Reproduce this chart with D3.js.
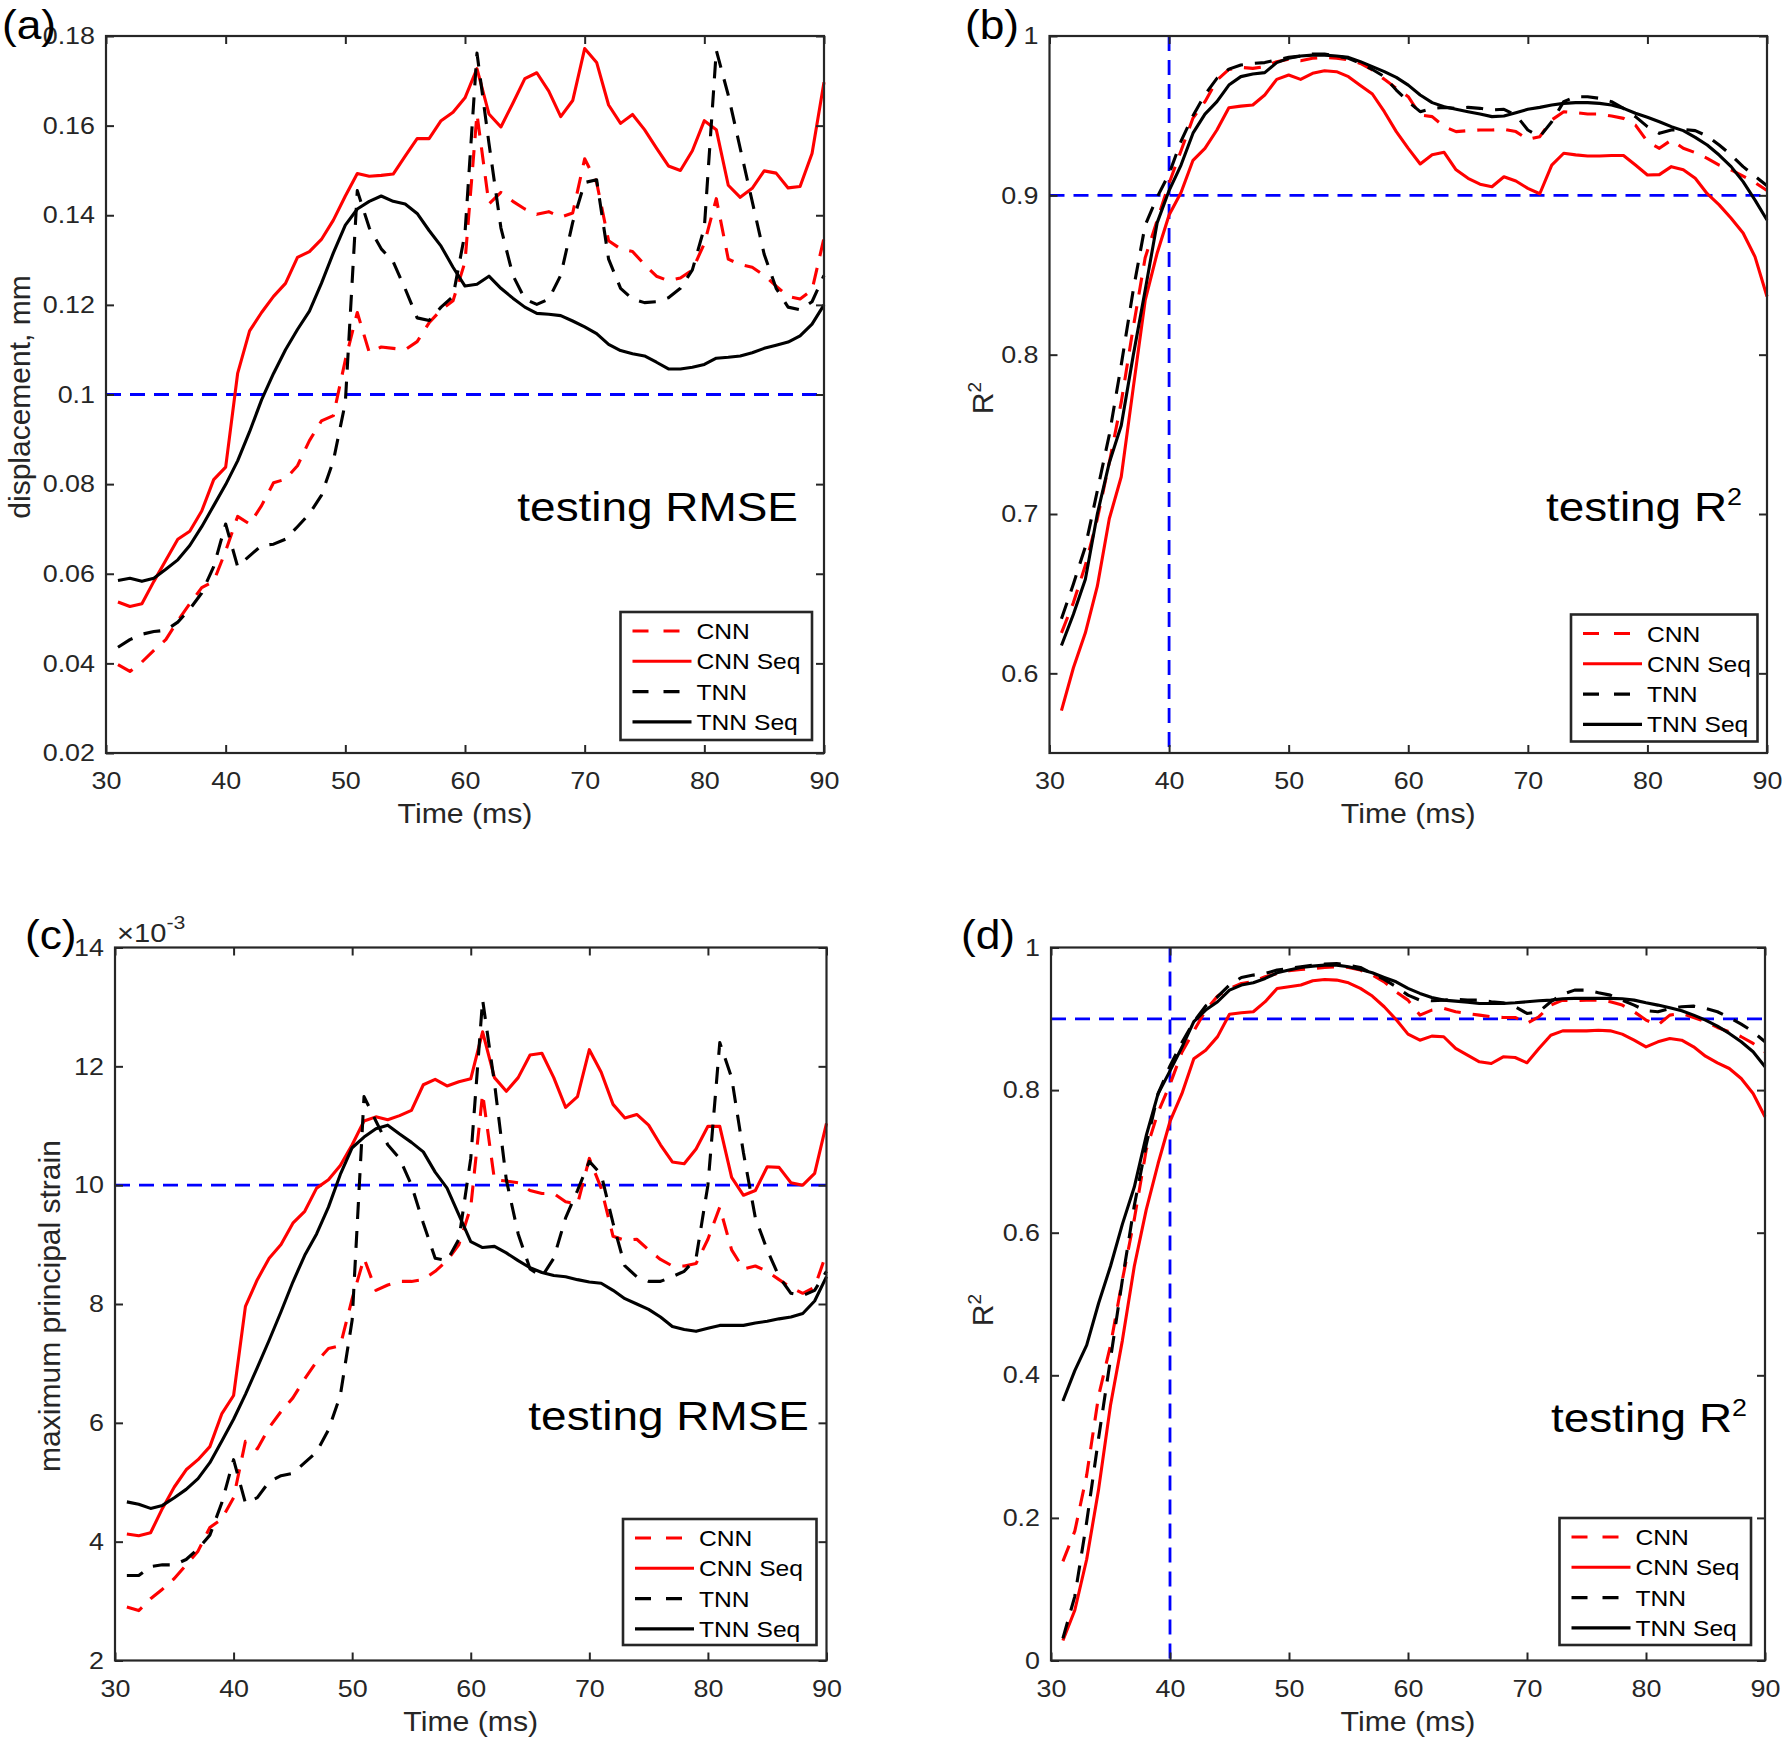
<!DOCTYPE html>
<html><head><meta charset="utf-8">
<script src="https://cdn.jsdelivr.net/npm/d3@7"></script>
<style>body{margin:0;background:#fff}svg{display:block}text{font-family:"Liberation Sans",Arial,sans-serif}</style>
</head><body><svg id="c" width="1784" height="1744"></svg>
<script>
// ---------------- DATA ----------------
const time = [31,32,33,34,35,36,37,38,39,40,41,42,43,44,45,46,47,48,49,50,51,52,53,54,55,56,57,58,59,60,61,62,63,64,65,66,67,68,69,70,71,72,73,74,75,76,77,78,79,80,81,82,83,84,85,86,87,88,89,90];
const seriesNames = ["CNN","CNN Seq","TNN","TNN Seq"];
const xTickValues = [30,40,50,60,70,80,90];
const xTickLabels = ["30","40","50","60","70","80","90"];

// (a) displacement RMSE, mm
const a_CNN = [.0397,.0382,.0403,.0429,.0453,.0495,.0533,.0569,.0583,.0651,.0728,.0711,.0752,.0803,.0811,.0841,.0897,.0941,.0953,.1077,.1183,.1094,.1106,.1103,.11,.1118,.116,.1189,.1209,.1296,.1626,.1425,.1451,.1431,.1414,.1402,.1408,.1396,.1405,.1526,.1473,.1343,.1325,.1319,.129,.1264,.1254,.126,.1278,.1337,.1437,.1302,.129,.1284,.1266,.1242,.1219,.1213,.1233,.1349];
const a_CNNSeq = [.0537,.0527,.0533,.0583,.063,.0677,.0695,.074,.081,.0838,.1047,.1142,.1183,.1219,.1248,.1306,.1319,.1346,.1389,.1443,.1493,.1487,.1489,.1492,.1532,.1571,.1571,.1611,.163,.1662,.1727,.1626,.1597,.165,.1705,.1718,.1677,.162,.1656,.1772,.1741,.1646,.1605,.1625,.1591,.155,.151,.15,.1544,.1611,.1591,.1467,.144,.146,.1499,.1494,.1461,.1464,.1538,.1697];
const a_TNN = [.0436,.0453,.0465,.0471,.0474,.0492,.0521,.0557,.0616,.0711,.0616,.064,.0663,.0666,.0677,.0705,.0734,.0775,.0852,.0982,.1455,.1372,.1325,.1296,.1236,.1171,.1165,.1195,.1219,.136,.1762,.1561,.1372,.1266,.1213,.1201,.1213,.1266,.1384,.1473,.1479,.1302,.1237,.1213,.1205,.1207,.1216,.1237,.1278,.1372,.1768,.1668,.1549,.1431,.1313,.1237,.1195,.1189,.1207,.1266];
const a_TNNSeq = [.0585,.059,.0583,.059,.061,.0631,.0663,.0705,.0752,.0799,.0852,.0917,.0988,.1047,.11,.1145,.1186,.1248,.1316,.1378,.1414,.1431,.1443,.1431,.1425,.1404,.1366,.1331,.1284,.1242,.1246,.1264,.1237,.1215,.1195,.1181,.1179,.1176,.1164,.1151,.1136,.1112,.1098,.1091,.1086,.1072,.1057,.1057,.1061,.1067,.1081,.1083,.1086,.1093,.1103,.111,.1117,.1131,.1157,.12];
const a_yTicks = [0.02,0.04,0.06,0.08,0.1,0.12,0.14,0.16,0.18];
const a_yTickLabels = ["0.02","0.04","0.06","0.08","0.1","0.12","0.14","0.16","0.18"];

// (b) displacement R^2
const b_CNN = [.6254,.6444,.6678,.697,.7322,.7702,.817,.8608,.8842,.9076,.928,.9485,.9588,.9722,.979,.9803,.9797,.9808,.9839,.9854,.9845,.986,.9866,.986,.985,.9828,.9787,.9728,.9672,.9619,.9504,.9494,.9431,.94,.9406,.941,.941,.9414,.94,.9351,.9368,.9473,.9525,.9519,.951,.951,.9498,.9483,.9441,.9337,.9295,.9347,.9295,.9268,.9232,.919,.9159,.912,.908,.903];
const b_CNNSeq = [.5766,.6035,.6254,.6547,.697,.7234,.779,.834,.8637,.8877,.9018,.922,.9295,.941,.955,.956,.9567,.963,.9728,.9755,.9728,.9766,.9782,.9776,.9745,.969,.9636,.9525,.94,.9295,.9197,.9255,.927,.916,.9107,.907,.9054,.9117,.909,.9044,.901,.919,.9264,.9254,.9247,.9247,.925,.925,.919,.9128,.913,.918,.916,.9107,.901,.894,.8856,.8764,.8614,.8365];
const b_TNN = [.6342,.6561,.6795,.7146,.7497,.7936,.8404,.8813,.8988,.9135,.934,.95,.9632,.9734,.9792,.9818,.9828,.9833,.985,.9866,.9874,.9887,.9887,.9874,.986,.9828,.979,.9745,.9661,.9588,.9525,.9546,.9552,.9546,.9552,.9546,.9536,.954,.9504,.941,.9368,.9462,.9588,.9619,.9619,.9609,.9588,.9546,.9494,.9431,.9389,.941,.9414,.9406,.9372,.9316,.9253,.918,.912,.906];
const b_TNNSeq = [.6175,.6371,.659,.700,.7322,.7556,.7994,.8404,.8827,.903,.919,.939,.951,.9588,.9692,.9745,.9762,.977,.9833,.986,.9874,.988,.988,.9874,.9866,.9839,.9808,.9776,.974,.9692,.963,.9582,.9556,.954,.9525,.951,.9494,.9498,.9519,.954,.9552,.9567,.9577,.9582,.9582,.9577,.9567,.9546,.9515,.949,.9462,.9431,.9406,.9364,.9316,.9253,.918,.9086,.897,.8845];
const b_yTicks = [0.6,0.7,0.8,0.9,1];
const b_yTickLabels = ["0.6","0.7","0.8","0.9","1"];

// (c) maximum principal strain RMSE (x10^-3)
const c_CNN = [2.90,2.84,3.04,3.20,3.38,3.61,3.84,4.24,4.38,4.74,5.69,5.56,5.92,6.19,6.42,6.74,7.03,7.25,7.30,8.09,8.77,8.23,8.32,8.38,8.38,8.41,8.55,8.73,9.0,9.63,11.54,10.09,10.07,10.04,9.91,9.86,9.86,9.72,9.68,10.45,9.95,9.14,9.07,9.09,8.91,8.75,8.64,8.64,8.68,9.09,9.63,8.91,8.59,8.64,8.55,8.41,8.28,8.18,8.28,8.86];
const c_CNNSeq = [4.13,4.10,4.15,4.56,4.92,5.21,5.38,5.60,6.15,6.46,7.96,8.41,8.77,9.0,9.36,9.56,9.95,10.09,10.33,10.68,11.08,11.15,11.10,11.17,11.26,11.69,11.78,11.67,11.74,11.79,12.58,11.81,11.58,11.81,12.19,12.22,11.81,11.31,11.49,12.28,11.90,11.36,11.13,11.19,11.01,10.68,10.39,10.36,10.61,10.99,10.99,10.13,9.83,9.91,10.31,10.30,10.04,10.0,10.20,11.04];
const c_TNN = [3.43,3.43,3.58,3.61,3.61,3.70,3.88,4.11,4.65,5.38,4.65,4.74,5.01,5.11,5.15,5.33,5.51,5.88,6.46,7.73,11.49,11.08,10.68,10.45,10.0,9.36,8.77,8.73,9.09,10.45,13.12,11.72,10.09,9.18,8.59,8.46,8.77,9.45,9.91,10.40,10.18,9.36,8.64,8.46,8.38,8.38,8.46,8.55,8.77,10.0,12.40,11.81,10.54,9.45,8.91,8.46,8.18,8.14,8.23,8.55];
const c_TNNSeq = [4.67,4.63,4.56,4.61,4.74,4.88,5.06,5.33,5.69,6.06,6.48,6.93,7.39,7.87,8.37,8.82,9.18,9.63,10.18,10.63,10.81,10.95,11.01,10.86,10.72,10.56,10.22,9.95,9.50,9.05,8.95,8.97,8.86,8.73,8.61,8.53,8.48,8.46,8.41,8.37,8.35,8.23,8.09,8.0,7.91,7.78,7.62,7.57,7.54,7.59,7.64,7.64,7.64,7.68,7.71,7.75,7.78,7.84,8.05,8.46];
const c_yTicks = [2,4,6,8,10,12,14];
const c_yTickLabels = ["2","4","6","8","10","12","14"];

// (d) maximum principal strain R^2
const d_CNN = [.139,.1814,.26,.371,.442,.534,.619,.716,.769,.808,.853,.883,.912,.932,.9426,.9496,.952,.959,.9636,.9674,.9692,.9706,.972,.973,.972,.9683,.9613,.9519,.9379,.9262,.9052,.9122,.9145,.9099,.9075,.9052,.9029,.9019,.9019,.8935,.9029,.9192,.9262,.9253,.9262,.9262,.9239,.9192,.9099,.8982,.8912,.9052,.9075,.9019,.8958,.8879,.8818,.8748,.8654,.8538];
const d_CNNSeq = [.028,.0705,.142,.240,.358,.449,.553,.632,.697,.756,.795,.844,.856,.875,.9065,.9085,.9099,.924,.9426,.9449,.9473,.9533,.9552,.9543,.9505,.9426,.9319,.9169,.899,.8785,.87,.8757,.8748,.8584,.849,.8397,.8373,.8467,.8457,.8383,.8584,.877,.8831,.8831,.8831,.884,.8831,.8785,.87,.8607,.8677,.8724,.87,.8607,.8476,.8383,.8303,.8163,.7953,.7626];
const d_TNN = [.031,.09,.1945,.312,.423,.534,.638,.723,.795,.834,.8666,.896,.918,.931,.9473,.958,.9613,.9636,.9683,.9706,.973,.9753,.9767,.9776,.9753,.972,.9636,.9552,.9449,.9332,.9262,.9253,.9262,.9272,.9262,.9262,.9239,.9225,.9169,.9075,.9099,.9239,.9346,.9402,.9402,.9365,.9332,.9262,.9192,.9113,.9099,.9145,.9169,.9178,.9145,.9099,.9019,.8926,.8818,.8678];
const d_TNNSeq = [.364,.4065,.4424,.501,.553,.612,.664,.736,.795,.827,.86,.896,.9122,.9239,.9402,.9473,.9505,.9566,.9645,.9683,.972,.9739,.9753,.9753,.973,.9692,.9645,.958,.9519,.9426,.9356,.93,.9262,.9248,.9234,.9215,.9215,.9215,.9225,.9239,.9253,.9262,.9281,.9286,.9286,.9286,.9286,.9281,.9262,.9225,.9192,.9155,.9113,.9052,.8982,.8898,.8795,.8678,.8538,.8327];
const d_yTicks = [0,0.2,0.4,0.6,0.8,1];
const d_yTickLabels = ["0","0.2","0.4","0.6","0.8","1"];

// ---------------- DRAWING ----------------
const SX = 1.12;
const INK = "#262626";
const FONT = '"Liberation Sans", Arial, sans-serif';
const svg = d3.select("#c");
svg.append("rect").attr("width",1784).attr("height",1744).attr("fill","#fff");

function addText(g, x, y, str, size, anchor, sx, color) {
  return g.append("text")
    .attr("transform", `translate(${x},${y}) scale(${sx==null?SX:sx},1)`)
    .attr("font-size", size).attr("text-anchor", anchor || "start")
    .attr("fill", color || INK).text(str);
}

const styles = [
  {color:"#ff0000", dash:true},
  {color:"#ff0000", dash:false},
  {color:"#000000", dash:true},
  {color:"#000000", dash:false}
];
const DASH = "17,12";
const LW = 3.1;

function panel(cfg) {
  const x = d3.scaleLinear().domain([30,90]).range([cfg.left, cfg.right]);
  const y = d3.scaleLinear().domain(cfg.yDomain).range([cfg.bottom, cfg.top]);
  const g = svg.append("g");

  // blue reference lines
  const refStyle = s => s.attr("stroke","#0000ff").attr("stroke-width",2.8).attr("stroke-dasharray","15,9");
  if (cfg.hRef != null) refStyle(g.append("line").attr("x1",cfg.left).attr("x2",cfg.right).attr("y1",y(cfg.hRef)).attr("y2",y(cfg.hRef)));
  if (cfg.vRef != null) refStyle(g.append("line").attr("x1",x(cfg.vRef)).attr("x2",x(cfg.vRef)).attr("y1",cfg.top).attr("y2",cfg.bottom));

  // data lines
  const line = d3.line().x((d,i)=>x(time[i])).y(d=>y(d));
  cfg.series.forEach((vals, k) => {
    g.append("path").attr("d", line(vals)).attr("fill","none")
      .attr("stroke", styles[k].color).attr("stroke-width", LW)
      .attr("stroke-linejoin","round")
      .attr("stroke-dasharray", styles[k].dash ? DASH : null);
  });

  // axes
  const styleAxis = a => {
    a.attr("font-family", FONT).attr("font-size", 24);
    a.select(".domain").remove();
    a.selectAll("line").attr("stroke", INK).attr("stroke-width", 2);
    a.selectAll("text").attr("fill", INK);
  };
  const bx = g.append("g").attr("transform",`translate(0,${cfg.bottom})`)
    .call(d3.axisBottom(x).tickValues(xTickValues).tickFormat((d,i)=>xTickLabels[i]).tickSizeInner(-8).tickSizeOuter(0).tickPadding(19));
  styleAxis(bx);
  bx.selectAll("text").attr("transform",`scale(${SX},1)`);
  const tx = g.append("g").attr("transform",`translate(0,${cfg.top})`)
    .call(d3.axisTop(x).tickValues(xTickValues).tickFormat(()=>"").tickSizeInner(-8).tickSizeOuter(0));
  styleAxis(tx);
  const ly = g.append("g").attr("transform",`translate(${cfg.left},0)`)
    .call(d3.axisLeft(y).tickValues(cfg.yTicks).tickFormat((d,i)=>cfg.yTickLabels[i]).tickSizeInner(-8).tickSizeOuter(0).tickPadding(11));
  styleAxis(ly);
  ly.selectAll("text").attr("x", -11/SX).attr("transform",`scale(${SX},1)`);
  const ry = g.append("g").attr("transform",`translate(${cfg.right},0)`)
    .call(d3.axisRight(y).tickValues(cfg.yTicks).tickFormat(()=>"").tickSizeInner(-8).tickSizeOuter(0));
  styleAxis(ry);

  // box
  g.append("rect").attr("x",cfg.left).attr("y",cfg.top)
    .attr("width",cfg.right-cfg.left).attr("height",cfg.bottom-cfg.top)
    .attr("fill","none").attr("stroke",INK).attr("stroke-width",2.2);

  // x label
  addText(g, (cfg.left+cfg.right)/2, cfg.bottom+70, "Time (ms)", 28, "middle", 1.08);

  // y label (rotated)
  const yl = g.append("text")
    .attr("transform",`translate(${cfg.yLabelX},${cfg.yLabelY}) rotate(-90)`)
    .attr("font-size",30).attr("text-anchor","middle").attr("fill",INK);
  if (cfg.yLabelSup) {
    yl.append("tspan").text(cfg.yLabel);
    yl.append("tspan").attr("font-size",19).attr("dy",-12).text(cfg.yLabelSup);
  } else yl.text(cfg.yLabel);

  // panel letter
  addText(g, cfg.tagX, cfg.tagY, cfg.tag, 41, "start", 1.08, "#000");

  // annotation
  const an = g.append("text")
    .attr("transform",`translate(${cfg.noteX},${cfg.noteY}) scale(${SX},1)`)
    .attr("font-size",41).attr("text-anchor","end").attr("fill","#000");
  an.append("tspan").text(cfg.note);
  if (cfg.noteSup) an.append("tspan").attr("font-size",24).attr("dy",-16).text(cfg.noteSup);

  // legend
  const L = cfg.legend;
  const lg = g.append("g");
  lg.append("rect").attr("x",L.x).attr("y",L.y).attr("width",L.w).attr("height",L.h)
    .attr("fill","#fff").attr("stroke",INK).attr("stroke-width",2.6);
  seriesNames.forEach((name,k) => {
    const ry0 = L.y + 19 + k*30.3;
    lg.append("line").attr("x1",L.x+12).attr("x2",L.x+71).attr("y1",ry0).attr("y2",ry0)
      .attr("stroke",styles[k].color).attr("stroke-width",LW)
      .attr("stroke-dasharray", styles[k].dash ? "16,15,16,30" : null);
    addText(lg, L.x+76, ry0+8, name, 22, "start", SX, "#000");
  });

  if (cfg.exponent) {
    const ex = g.append("text").attr("transform",`translate(${cfg.left+2},${cfg.top-6}) scale(${SX},1)`)
      .attr("font-size",26).attr("fill",INK);
    ex.append("tspan").text("\u00d710");
    ex.append("tspan").attr("font-size",19).attr("dy",-13).text("-3");
  }
}

panel({left:106, right:824, top:36, bottom:753, yDomain:[0.02,0.18],
  yTicks:a_yTicks, yTickLabels:a_yTickLabels,
  series:[a_CNN,a_CNNSeq,a_TNN,a_TNNSeq], hRef:0.1,
  yLabel:"displacement, mm", yLabelX:30, yLabelY:397,
  tag:"(a)", tagX:2, tagY:39,
  note:"testing RMSE", noteX:798, noteY:521,
  legend:{x:620.5,y:612,w:191.5,h:128}});

panel({left:1049.5, right:1767, top:36, bottom:753, yDomain:[0.55,1],
  yTicks:b_yTicks, yTickLabels:b_yTickLabels,
  series:[b_CNN,b_CNNSeq,b_TNN,b_TNNSeq], hRef:0.9, vRef:40,
  yLabel:"R", yLabelSup:"2", yLabelX:993, yLabelY:398,
  tag:"(b)", tagX:965, tagY:39,
  note:"testing R", noteSup:"2", noteX:1742, noteY:521,
  legend:{x:1571,y:614.5,w:186.5,h:127}});

panel({left:115, right:826.5, top:947.5, bottom:1660.5, yDomain:[2,14],
  yTicks:c_yTicks, yTickLabels:c_yTickLabels,
  series:[c_CNN,c_CNNSeq,c_TNN,c_TNNSeq], hRef:10, exponent:true,
  yLabel:"maximum principal strain", yLabelX:60, yLabelY:1306,
  tag:"(c)", tagX:25, tagY:949,
  note:"testing RMSE", noteX:809, noteY:1430,
  legend:{x:623,y:1519,w:193.5,h:126}});

panel({left:1051, right:1765, top:947.5, bottom:1660.5, yDomain:[0,1],
  yTicks:d_yTicks, yTickLabels:d_yTickLabels,
  series:[d_CNN,d_CNNSeq,d_TNN,d_TNNSeq], hRef:0.9, vRef:40,
  yLabel:"R", yLabelSup:"2", yLabelX:993, yLabelY:1310,
  tag:"(d)", tagX:961, tagY:949,
  note:"testing R", noteSup:"2", noteX:1747, noteY:1432,
  legend:{x:1559.5,y:1518,w:191.5,h:127}});
</script></body></html>
